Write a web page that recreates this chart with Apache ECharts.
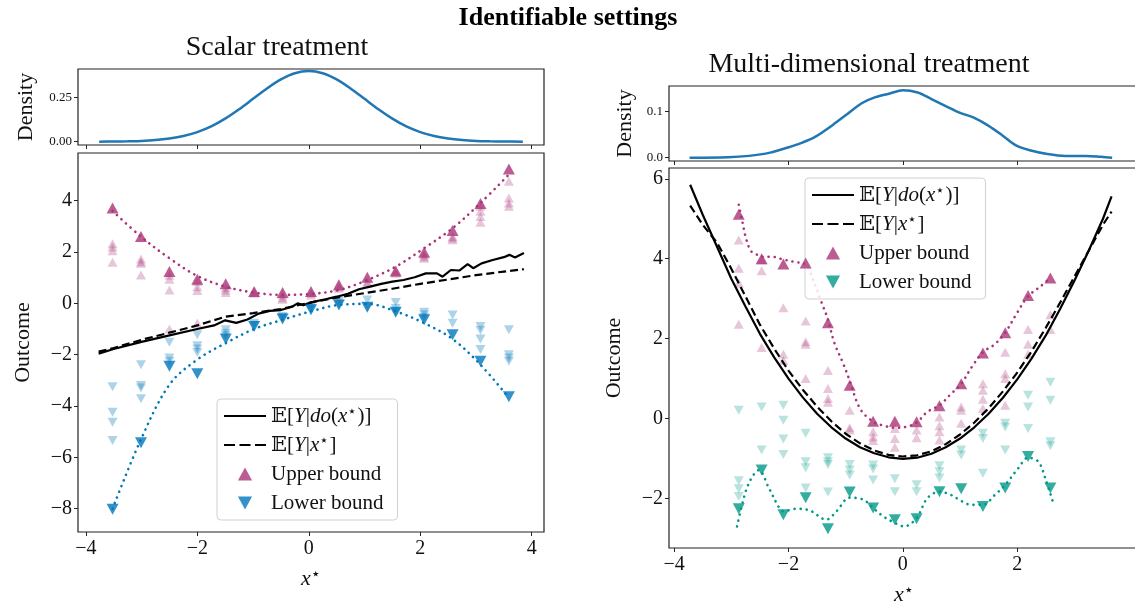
<!DOCTYPE html>
<html>
<head>
<meta charset="utf-8">
<title>Identifiable settings</title>
<script src="https://cdn.jsdelivr.net/npm/echarts@6/dist/echarts.min.js"></script>
<style>
    html, body { margin: 0; padding: 0; background: #fff; }
    #chart { width: 1135px; height: 602px; }
</style>
</head>
<body>
<div id="chart"></div>
<script>
// ---------- scalar treatment (left) ----------
const leftDensX = [-3.76, -3.5, -3.25, -3.0, -2.75, -2.5, -2.25, -2.0, -1.75, -1.5, -1.25, -1.0, -0.75, -0.5, -0.25, 0, 0.25, 0.5, 0.75, 1.0, 1.25, 1.5, 1.75, 2.0, 2.25, 2.5, 2.75, 3.0, 3.25, 3.5, 3.84];
const leftDensY = [0.000, 0.001, 0.002, 0.004, 0.009, 0.018, 0.032, 0.054, 0.086, 0.130, 0.183, 0.242, 0.301, 0.352, 0.387, 0.399, 0.387, 0.352, 0.301, 0.242, 0.183, 0.130, 0.086, 0.054, 0.032, 0.018, 0.009, 0.004, 0.002, 0.001, 0.000];

const leftDoX = [-3.77, -3.5, -3.0, -2.5, -2.0, -1.7, -1.5, -1.3, -1.1, -0.9, -0.7, -0.5, -0.3, -0.2, -0.1, 0.1, 0.3, 0.5, 0.7, 0.9, 1.1, 1.3, 1.5, 1.7, 1.9, 2.1, 2.3, 2.4, 2.55, 2.7, 2.85, 2.95, 3.1, 3.3, 3.5, 3.6, 3.7, 3.86];
const leftDoY = [-1.96, -1.78, -1.5, -1.25, -1.0, -0.86, -0.66, -0.76, -0.63, -0.4, -0.29, -0.26, -0.13, 0.0, -0.07, 0.07, 0.16, 0.26, 0.37, 0.55, 0.65, 0.76, 0.85, 0.91, 1.02, 1.17, 1.17, 1.04, 1.3, 1.28, 1.53, 1.37, 1.56, 1.69, 1.8, 1.89, 1.79, 1.96];
const leftCondX = [-3.77, -3.5, -3.0, -2.5, -2.0, -1.5, -1.0, -0.5, 0, 0.5, 1.0, 1.5, 2.0, 2.5, 3.0, 3.5, 3.86];
const leftCondY = [-1.88, -1.74, -1.42, -1.14, -0.86, -0.52, -0.38, -0.22, 0.02, 0.22, 0.4, 0.57, 0.76, 0.93, 1.1, 1.24, 1.33];

const leftX = [-3.52, -3.01, -2.50, -2.00, -1.49, -0.98, -0.47, 0.04, 0.54, 1.05, 1.56, 2.07, 2.58, 3.08, 3.59];
const leftUpper = [3.72, 2.61, 1.24, 0.94, 0.76, 0.46, 0.42, 0.46, 0.73, 1.02, 1.26, 1.99, 2.84, 3.89, 5.24];
const leftLower = [-8.02, -5.43, -2.45, -2.74, -1.39, -0.90, -0.61, -0.25, -0.06, -0.15, -0.35, -0.64, -1.22, -2.26, -3.64];
const leftUpperFit = [3.6, 2.6, 1.76, 1.07, 0.65, 0.42, 0.33, 0.37, 0.52, 0.91, 1.43, 2.15, 2.93, 3.91, 5.02];
const leftLowerFit = [-8.0, -5.3, -3.17, -2.19, -1.55, -1.0, -0.64, -0.31, -0.06, -0.02, -0.31, -0.77, -1.39, -2.39, -3.68];
const leftUpperRuns = [
    [2.32, 2.05, 1.60, 2.2], [1.73, 1.56, 1.11, 1.62], [1.1, 0.94, 0.52, -1.0], [0.85, 0.65, 0.50, -0.77],
    [0.62, 0.52, 0.42], [0.39, 0.44], [0.33, 0.16, 0.22], [0.33, 0.40], [0.59, 0.65], [0.85, 0.78],
    [1.17, 1.22], [1.89, 1.76, 1.82], [2.61, 2.48, 2.55], [3.78, 3.59, 3.39, 3.16], [4.76, 4.11, 3.91, 3.78]
];
const leftLowerRuns = [
    [-3.25, -4.24, -4.63, -5.34], [-2.39, -3.2, -3.3, -3.72], [-1.52, -2.13, -2.26], [-1.22, -1.65, -1.78, -1.91],
    [-1.03, -1.16, -1.26], [-0.77, -0.85], [-0.51, -0.55], [-0.12, -0.2], [0.07, -0.02], [0.13, -0.13],
    [0.03, -0.2, -0.33], [-0.35, -0.44, -0.55], [-0.45, -0.77], [-0.9, -1.05, -1.39, -1.8], [-1.03, -2.0, -2.13, -2.26]
];

// ---------- multi-dimensional treatment (right) ----------
const rightDensX = [-3.73, -3.06, -2.69, -2.32, -2.01, -1.77, -1.52, -1.22, -0.97, -0.72, -0.48, -0.23, 0, 0.26, 0.5, 0.75, 0.99, 1.24, 1.48, 1.73, 1.97, 2.22, 2.53, 2.84, 3.21, 3.46, 3.66];
const rightDensY = [0.0, 0.001, 0.004, 0.011, 0.022, 0.032, 0.046, 0.071, 0.094, 0.117, 0.130, 0.138, 0.145, 0.140, 0.126, 0.111, 0.097, 0.086, 0.070, 0.049, 0.027, 0.016, 0.008, 0.004, 0.004, 0.002, 0.0];

const rightCurveX = [-3.72, -3.5, -3.25, -3.0, -2.75, -2.5, -2.25, -2.0, -1.75, -1.5, -1.25, -1.0, -0.75, -0.5, -0.25, 0, 0.25, 0.5, 0.75, 1.0, 1.25, 1.5, 1.75, 2.0, 2.25, 2.5, 2.75, 3.0, 3.25, 3.5, 3.65];
const rightDoY = [5.85, 5.1, 4.3, 3.5, 2.8, 2.12, 1.53, 1.0, 0.53, 0.12, -0.22, -0.5, -0.72, -0.87, -0.97, -1.01, -0.98, -0.88, -0.72, -0.5, -0.22, 0.12, 0.52, 0.98, 1.5, 2.08, 2.74, 3.45, 4.2, 5.0, 5.56];
const rightCondY = [5.33, 4.85, 4.4, 3.75, 3.05, 2.35, 1.75, 1.2, 0.72, 0.3, -0.07, -0.38, -0.62, -0.8, -0.91, -0.95, -0.92, -0.82, -0.64, -0.4, -0.1, 0.26, 0.68, 1.15, 1.68, 2.27, 2.9, 3.55, 4.2, 4.85, 5.18];

const rightX = [-2.87, -2.47, -2.09, -1.70, -1.31, -0.93, -0.52, -0.14, 0.24, 0.64, 1.02, 1.40, 1.79, 2.19, 2.58];
const rightUpper = [5.11, 4.00, 3.87, 3.89, 2.40, 0.83, -0.07, -0.07, -0.08, 0.32, 0.87, 1.64, 2.15, 3.08, 3.52];
const rightLower = [-2.26, -1.29, -2.41, -1.98, -2.76, -1.84, -2.24, -2.53, -2.51, -1.83, -1.76, -2.2, -1.74, -0.95, -1.74];
const rightUpperRuns = [
    [4.47, 3.76, 3.39, 2.36], [3.97, 3.7, 1.78], [2.77, 1.61, 1.45], [2.44, 1.92, 1.86, 1.0], [1.2, 0.75, 0.5, 0.41],
    [0.21, -0.23, -0.29], [-0.33, -0.46, -0.55], [-0.25, -0.5, -0.72], [-0.29, -0.48], [0.04, -0.18, -0.33, -0.54],
    [0.29, 0.21, -0.12], [0.87, 0.71, 0.48, 0.25], [1.66, 1.12, 1.0, 0.33], [2.23, 1.86, 1.61], [2.6, 2.23]
];
const rightLowerRuns = [
    [0.21, -1.56, -1.76, -1.95], [0.29, -0.79], [0.33, -0.04, -0.51, -0.9], [-0.37, -1.08, -1.23, -1.74],
    [-0.98, -1.08, -1.15, -1.84], [-1.15, -1.29, -1.41], [-1.16, -1.26, -1.54], [-1.51, -1.83], [-1.66, -1.83],
    [-1.18, -1.33, -1.49], [-0.79, -0.91], [-0.37, -0.5, -1.37], [-0.12, -0.21, -0.79], [0.58, 0.29, -0.25], [0.91, 0.46, -0.58, -0.68]
];
const rightUpperFitX = [-2.87, -2.81, -2.75, -2.66, -2.55, -2.47, -2.3, -2.09, -1.9, -1.70, -1.55, -1.42, -1.31, -1.2, -1.05, -0.93, -0.75, -0.52, -0.33, -0.14, 0.05, 0.24, 0.43, 0.64, 0.83, 1.02, 1.21, 1.40, 1.6, 1.79, 2.0, 2.19, 2.4, 2.58];
const rightUpperFitY = [5.35, 4.95, 4.55, 4.2, 4.1, 4.05, 4.05, 3.98, 3.92, 3.85, 3.4, 2.9, 2.48, 1.9, 1.4, 0.95, 0.25, -0.08, -0.18, -0.23, -0.21, -0.1, 0.17, 0.33, 0.6, 0.87, 1.3, 1.66, 1.85, 2.15, 2.65, 3.06, 3.3, 3.52];
const rightLowerFitX = [-2.90, -2.75, -2.63, -2.52, -2.34, -2.16, -2.09, -1.87, -1.63, -1.34, -1.16, -0.93, -0.69, -0.52, -0.34, -0.14, 0.02, 0.24, 0.43, 0.64, 0.84, 1.02, 1.20, 1.40, 1.61, 1.79, 2.02, 2.19, 2.37, 2.49, 2.64];
const rightLowerFitY = [-2.7, -1.83, -1.45, -1.29, -1.75, -2.24, -2.32, -2.26, -2.3, -2.53, -2.32, -1.98, -2.03, -2.24, -2.45, -2.61, -2.7, -2.49, -1.99, -1.83, -1.91, -2.06, -2.16, -2.16, -1.91, -1.66, -1.24, -0.98, -1.08, -1.49, -2.16];

// ---------- styling ----------
const SERIF = '"Liberation Serif", "DejaVu Serif", serif';
const MAGENTA = '#AA3377';
const BLUE = '#0077BB';
const TEAL = '#009988';
const DENS = '#1f77b4';

const pts = (xs, ys) => xs.map((x, i) => [x, ys[i]]);
const runPts = (xs, runs) => runs.flatMap((r, i) => r.map(y => [xs[i], y]));
const minus = v => String(v).replace('-', '\u2212');

// legend icons (solid line, dashed line, up / down triangle)
const ICON_SOLID = 'path://M0,0H42V2.2H0Z';
const ICON_DASH = 'path://M0,0H11V2.2H0Z M15.5,0H26.5V2.2H15.5Z M31,0H42V2.2H31Z';
const ICON_UP = 'path://M6,0L12,11L0,11Z';
const ICON_DOWN = 'path://M0,0L12,0L6,11Z';

const richText = {
    n: { fontFamily: SERIF, fontSize: 21, color: '#111' },
    i: { fontFamily: SERIF, fontSize: 21, fontStyle: 'italic', color: '#111' },
    s: { fontFamily: 'DejaVu Sans', fontSize: 15, color: '#111', padding: [0, 1, 8, 0] }
};

const legendText = {
    do: '{n|\u{1D53C}[}{i|Y}{n||}{i|do}{n|(}{i|x}{s|\u22C6}{n|)]}',
    cond: '{n|\u{1D53C}[}{i|Y}{n||}{i|x}{s|\u22C6}{n|]}',
    up: '{n|Upper bound}',
    low: '{n|Lower bound}'
};

function xAxis(grid, min, max, ticks, labelled) {
    return {
        type: 'value', gridIndex: grid, min: min, max: max,
        splitLine: { show: false },
        axisLine: { show: false, onZero: false },
        axisTick: { show: true, length: 4, customValues: ticks, lineStyle: { color: '#222' } },
        axisLabel: labelled
            ? { show: true, customValues: ticks, formatter: minus, fontFamily: SERIF, fontSize: 20, color: '#111', margin: 7 }
            : { show: false },
        name: labelled ? '{i|x}{s|\u22C6}' : '',
        nameLocation: 'middle', nameGap: 35,
        nameTextStyle: { rich: { i: { fontFamily: SERIF, fontSize: 22, fontStyle: 'italic', color: '#111' }, s: { fontFamily: 'DejaVu Sans', fontSize: 16, color: '#111', padding: [0, 0, 9, 0] } } }
    };
}

function yAxis(grid, min, max, ticks, fmt, size, name, gap) {
    return {
        type: 'value', gridIndex: grid, min: min, max: max,
        splitLine: { show: false },
        axisLine: { show: false, onZero: false },
        axisTick: { show: true, length: 4, customValues: ticks, lineStyle: { color: '#222' } },
        axisLabel: { customValues: ticks, formatter: fmt, fontFamily: SERIF, fontSize: size, color: '#111', margin: 6 },
        name: name, nameLocation: 'middle', nameGap: gap,
        nameTextStyle: { fontFamily: SERIF, fontSize: 22, color: '#111' }
    };
}

function lineSeries(name, grid, data, style, z, smooth) {
    return {
        name: name, type: 'line', xAxisIndex: grid, yAxisIndex: grid, data: data,
        symbol: 'none', smooth: smooth || false, lineStyle: style,
        itemStyle: { color: style.color }, z: z, animation: false
    };
}

function scatterSeries(name, grid, data, color, size, down, z) {
    return {
        name: name, type: 'scatter', xAxisIndex: grid, yAxisIndex: grid, data: data,
        symbol: 'triangle', symbolRotate: down ? 180 : 0, symbolSize: size,
        itemStyle: { color: color }, z: z, animation: false
    };
}

function panel(p, gx, d) {
    // gx: index of the main grid, gx - 1 is the density grid above it
    const dots = c => ({ color: c, width: 2.6, type: [0.1, 6], cap: 'round' });
    return [
        lineSeries(p + '_dens', gx - 1, pts(d.densX, d.densY), { color: DENS, width: 2.5 }, 3, 0.3),
        scatterSeries(p + '_upRuns', gx, runPts(d.x, d.upRuns), 'rgba(170,51,119,0.35)', [10, 9], false, 2),
        scatterSeries(p + '_lowRuns', gx, runPts(d.x, d.lowRuns), d.lowLight, [10, 9], true, 2),
        lineSeries(p + '_upFit', gx, pts(d.upFitX, d.upFitY), dots(MAGENTA), 3, 0.35),
        lineSeries(p + '_lowFit', gx, pts(d.lowFitX, d.lowFitY), dots(d.lowColor), 3, 0.35),
        lineSeries(p + '_do', gx, pts(d.doX, d.doY), { color: '#000', width: 2.2 }, 4),
        lineSeries(p + '_cond', gx, pts(d.condX, d.condY), { color: '#000', width: 2.2, type: [8, 4] }, 4),
        scatterSeries(p + '_up', gx, pts(d.x, d.up), MAGENTA, [12, 11], false, 5),
        scatterSeries(p + '_low', gx, pts(d.x, d.low), d.lowColor, [12, 11], true, 5)
    ];
}

function legend(p, left, top) {
    return {
        orient: 'vertical', left: left, top: top,
        data: [
            { name: p + '_do', icon: ICON_SOLID },
            { name: p + '_cond', icon: ICON_DASH },
            { name: p + '_up', icon: ICON_UP },
            { name: p + '_low', icon: ICON_DOWN }
        ],
        formatter: name => legendText[name.split('_')[1]],
        itemWidth: 42, itemHeight: 13, itemGap: 5,
        symbolKeepAspect: true,
        padding: [5, 14, 5, 7],
        backgroundColor: 'rgba(255,255,255,0.85)',
        borderColor: '#d0d0d0', borderWidth: 1, borderRadius: 4,
        selectedMode: false,
        textStyle: { rich: richText, lineHeight: 24 }
    };
}

const chart = echarts.init(document.getElementById('chart'), null, { renderer: 'canvas' });

// outerBoundsMode 'none' keeps the grids exactly where they are put (the right panel runs off the edge)
const gridStyle = { show: true, borderColor: '#222', borderWidth: 1.2, backgroundColor: 'transparent', outerBoundsMode: 'none', containLabel: false };

chart.setOption({
    animation: false,
    graphic: [
        { type: 'text', x: 568, y: 18, style: { text: 'Identifiable settings', align: 'center', verticalAlign: 'middle', fontFamily: SERIF, fontWeight: 'bold', fontSize: 26, fill: '#000' } },
        { type: 'text', x: 277, y: 48, style: { text: 'Scalar treatment', align: 'center', verticalAlign: 'middle', fontFamily: SERIF, fontSize: 28, fill: '#111' } },
        { type: 'text', x: 869, y: 65, style: { text: 'Multi-dimensional treatment', align: 'center', verticalAlign: 'middle', fontFamily: SERIF, fontSize: 28, fill: '#111' } }
    ],
    grid: [
        Object.assign({ left: 78, top: 69, width: 466, height: 76 }, gridStyle),
        Object.assign({ left: 78, top: 153, width: 466, height: 379 }, gridStyle),
        Object.assign({ left: 669, top: 86, width: 470, height: 75 }, gridStyle),
        Object.assign({ left: 669, top: 168, width: 470, height: 380 }, gridStyle)
    ],
    xAxis: [
        xAxis(0, -4.14, 4.22, [-4, -2, 0, 2, 4], false),
        xAxis(1, -4.14, 4.22, [-4, -2, 0, 2, 4], true),
        xAxis(2, -4.09, 4.13, [-4, -2, 0, 2], false),
        xAxis(3, -4.09, 4.13, [-4, -2, 0, 2], true)
    ],
    yAxis: [
        yAxis(0, -0.019, 0.411, [0, 0.25], v => v.toFixed(2), 13, 'Density', 41),
        yAxis(1, -8.91, 5.86, [-8, -6, -4, -2, 0, 2, 4], minus, 20, 'Outcome', 44),
        yAxis(2, -0.007, 0.154, [0, 0.1], v => v.toFixed(1), 13, 'Density', 33),
        yAxis(3, -3.24, 6.27, [-2, 0, 2, 4, 6], minus, 20, 'Outcome', 44)
    ],
    legend: [legend('L', 217, 399), legend('R', 805, 178)],
    series: [
        ...panel('L', 1, {
            densX: leftDensX, densY: leftDensY, x: leftX, up: leftUpper, low: leftLower,
            upRuns: leftUpperRuns, lowRuns: leftLowerRuns,
            upFitX: leftX, upFitY: leftUpperFit, lowFitX: leftX, lowFitY: leftLowerFit,
            doX: leftDoX, doY: leftDoY, condX: leftCondX, condY: leftCondY,
            lowColor: BLUE, lowLight: 'rgba(0,119,187,0.4)'
        }),
        ...panel('R', 3, {
            densX: rightDensX, densY: rightDensY, x: rightX, up: rightUpper, low: rightLower,
            upRuns: rightUpperRuns, lowRuns: rightLowerRuns,
            upFitX: rightUpperFitX, upFitY: rightUpperFitY, lowFitX: rightLowerFitX, lowFitY: rightLowerFitY,
            doX: rightCurveX, doY: rightDoY, condX: rightCurveX, condY: rightCondY,
            lowColor: TEAL, lowLight: 'rgba(0,153,136,0.35)'
        })
    ]
});
</script>
</body>
</html>
